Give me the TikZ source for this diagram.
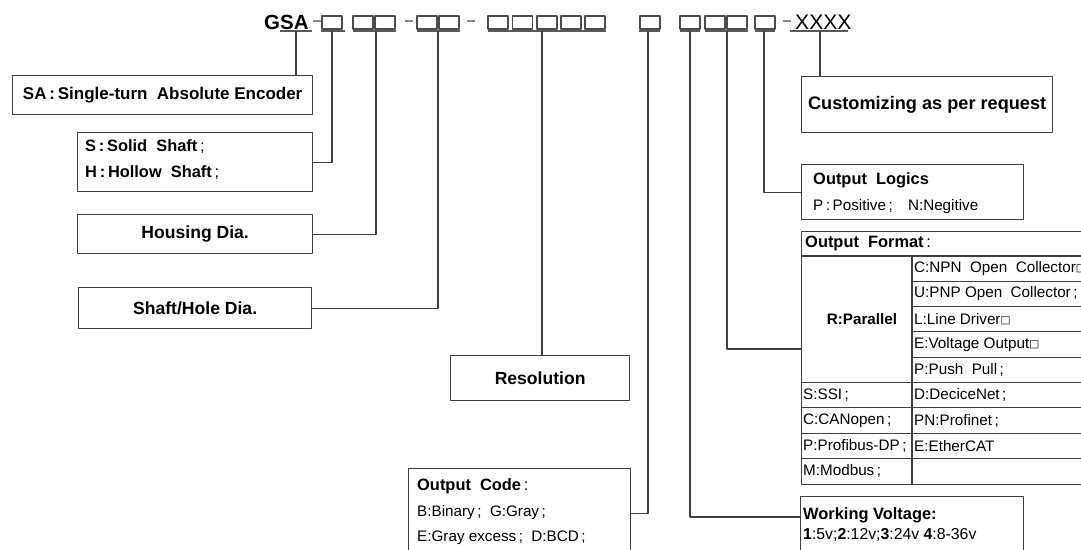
\documentclass[tikz,border=0pt]{standalone}
\usepackage{fontspec}
\setmainfont{Liberation Sans}
\newfontfamily\symfont{DejaVu Sans}
\definecolor{lin}{gray}{0.25}
\newcommand{\gapbox}{\raisebox{1.2pt}{\symfont\fontsize{9}{9}\selectfont □}}
\begin{document}
\begin{tikzpicture}[x=0.03cm, y=-0.03cm, line join=round,
  wh/.style 2 args={minimum width=#1*0.03cm, minimum height=#2*0.03cm},
  box/.style={draw=lin, line width=1.1pt, inner sep=0pt, anchor=north west},
  wire/.style={draw=lin, line width=1pt},
  sq/.style={draw=black!70, line width=1.2pt},
  ul/.style={draw=black!65, line width=1.6pt},
  hy/.style={draw=black!45, line width=0.9pt},
  big/.style={font=\bfseries\fontsize{15}{18}\selectfont},
  head/.style={font=\bfseries\fontsize{14}{16}\selectfont, anchor=west, inner sep=0pt},
  txt/.style={font=\fontsize{13}{15}\selectfont, anchor=west, inner sep=0pt}]
\useasboundingbox (0,0) rectangle (1081,549);
% type code
\node[font=\bfseries\fontsize{17.5}{20}\selectfont, anchor=base west, inner sep=0pt] (gsa) at (264,29) {GSA};
\node[font=\fontsize{18}{20}\selectfont, anchor=base west, inner sep=0pt] (xx) at (795,29) {XXXX};
\foreach \x in {322,353,375,417,439,488,512.5,537,561,585,640,680,705,727,755}
  \draw[sq] (\x,16) rectangle ++(20,13);
\foreach \a/\b in {280/312,321/345,353/396,417/460,488/606,639/660,680/700,705/748,755/775,790/848}
  \draw[ul] (\a,31) -- (\b,31);
\foreach \a in {313,405,467,783}
  \draw[hy] (\a,21) -- ++(8,0);
\foreach \n/\x in {t0/296,t1/332,t2/376,t3/438,t4/542,t5/648,t6/690,t7/727,t8/764,t9/820}
  \coordinate (\n) at (\x,31);
% left boxes
\node[box, wh={300}{39}, font=\bfseries\fontsize{14.5}{17}\selectfont] (sa) at (12,75) {SA\,:\,Single-turn\ \ Absolute Encoder};
\node[box, wh={235}{59}] (sh) at (77,132) {};
\node[head] (sh1) at (85,147) {S\,:\,Solid\ \ Shaft\,{\mdseries;}};
\node[head] (sh2) at (85,173) {H\,:\,Hollow\ \ Shaft\,{\mdseries;}};
\node[box, wh={235}{39}, big] (hd) at (77,214) {Housing Dia.\hspace{16pt}};
\node[box, wh={233}{41}, big] (hole) at (78,287) {Shaft/Hole Dia.\hspace{14pt}};
\node[box, wh={179}{45}, big] (res) at (450,355) {Resolution};
\node[box, wh={222}{90}] (code) at (408,468) {};
\node[head] (code1) at (417,486) {Output\ \ Code\,{\mdseries:}};
\node[txt] (code2) at (417,513) {B:Binary\,;\ \ G:Gray\,;};
\node[txt] (code3) at (417,538) {E:Gray excess\,;\ \ D:BCD\,;};
% right boxes
\node[box, wh={251}{56}, font=\bfseries\fontsize{15.5}{18}\selectfont] (cus) at (801,76) {Customizing as per request};
\node[box, wh={222}{55}] (logic) at (801,164) {};
\node[head] (logic1) at (813,180) {Output\ \ Logics};
\node[txt] (logic2) at (813,207) {P\,:\,Positive\,;\quad N:Negitive};
\node[box, wh={300}{253}] (fmt) at (801,231) {};
\node[head] (fmt0) at (805,243.5) {Output\ \ Format\,{\mdseries:}};
\draw[wire] (801,256) -- (1101,256);
\draw[wire] (912,256) -- (912,484);
\foreach \y in {281.3,306.6,331.9} \draw[wire] (912,\y) -- (1101,\y);
\foreach \y in {357.2,382.5,407.8,433.1,458.4} \draw[wire] (\ifdim\y pt>360pt 801\else 912\fi,\y) -- (1101,\y);
\node[font=\bfseries\fontsize{13}{15}\selectfont] (par) at (862,319) {R:Parallel};
\foreach \t [count=\i] in {C:NPN\ \ Open\ \ Collector\gapbox, U:PNP Open\ \ Collector\,;, L:Line Driver\gapbox,
    E:Voltage Output\gapbox, P:Push\ \ Pull\,;, D:DeciceNet\,;, PN:Profinet\,;, E:EtherCAT}
  \node[txt] (fr\i) at (914,{256+25.3*(\i-0.5)}) {\t};
\foreach \t [count=\i from 6] in {S:SSI\,;, C:CANopen\,;, P:Profibus-DP\,;, M:Modbus\,;}
  \node[txt] (fl\i) at (803,{256+25.3*(\i-0.5)}) {\t};
\node[box, wh={223}{60}] (volt) at (800,496) {};
\node[head] (volt1) at (803,515) {Working Voltage:};
\node[txt, font=\fontsize{13.5}{15}\selectfont] (volt2) at (803,535) {\textbf{1}:5v;\textbf{2}:12v;\textbf{3}:24v \textbf{4}:8-36v};
\coordinate (vin) at (800,517);
\coordinate (fin) at (801,349);
% connectors
\draw[wire] (t0) -- (t0 |- sa.north);
\draw[wire] (t1) |- (sh.east);
\draw[wire] (t2) |- (hd.east);
\draw[wire] (t3) |- (hole.east);
\draw[wire] (t4) -- (t4 |- res.north);
\draw[wire] (t5) |- (code.east);
\draw[wire] (t6) |- (vin);
\draw[wire] (t7) |- (fin);
\draw[wire] (t8) |- (logic.west);
\draw[wire] (t9) -- (t9 |- cus.north);
\end{tikzpicture}
\end{document}
